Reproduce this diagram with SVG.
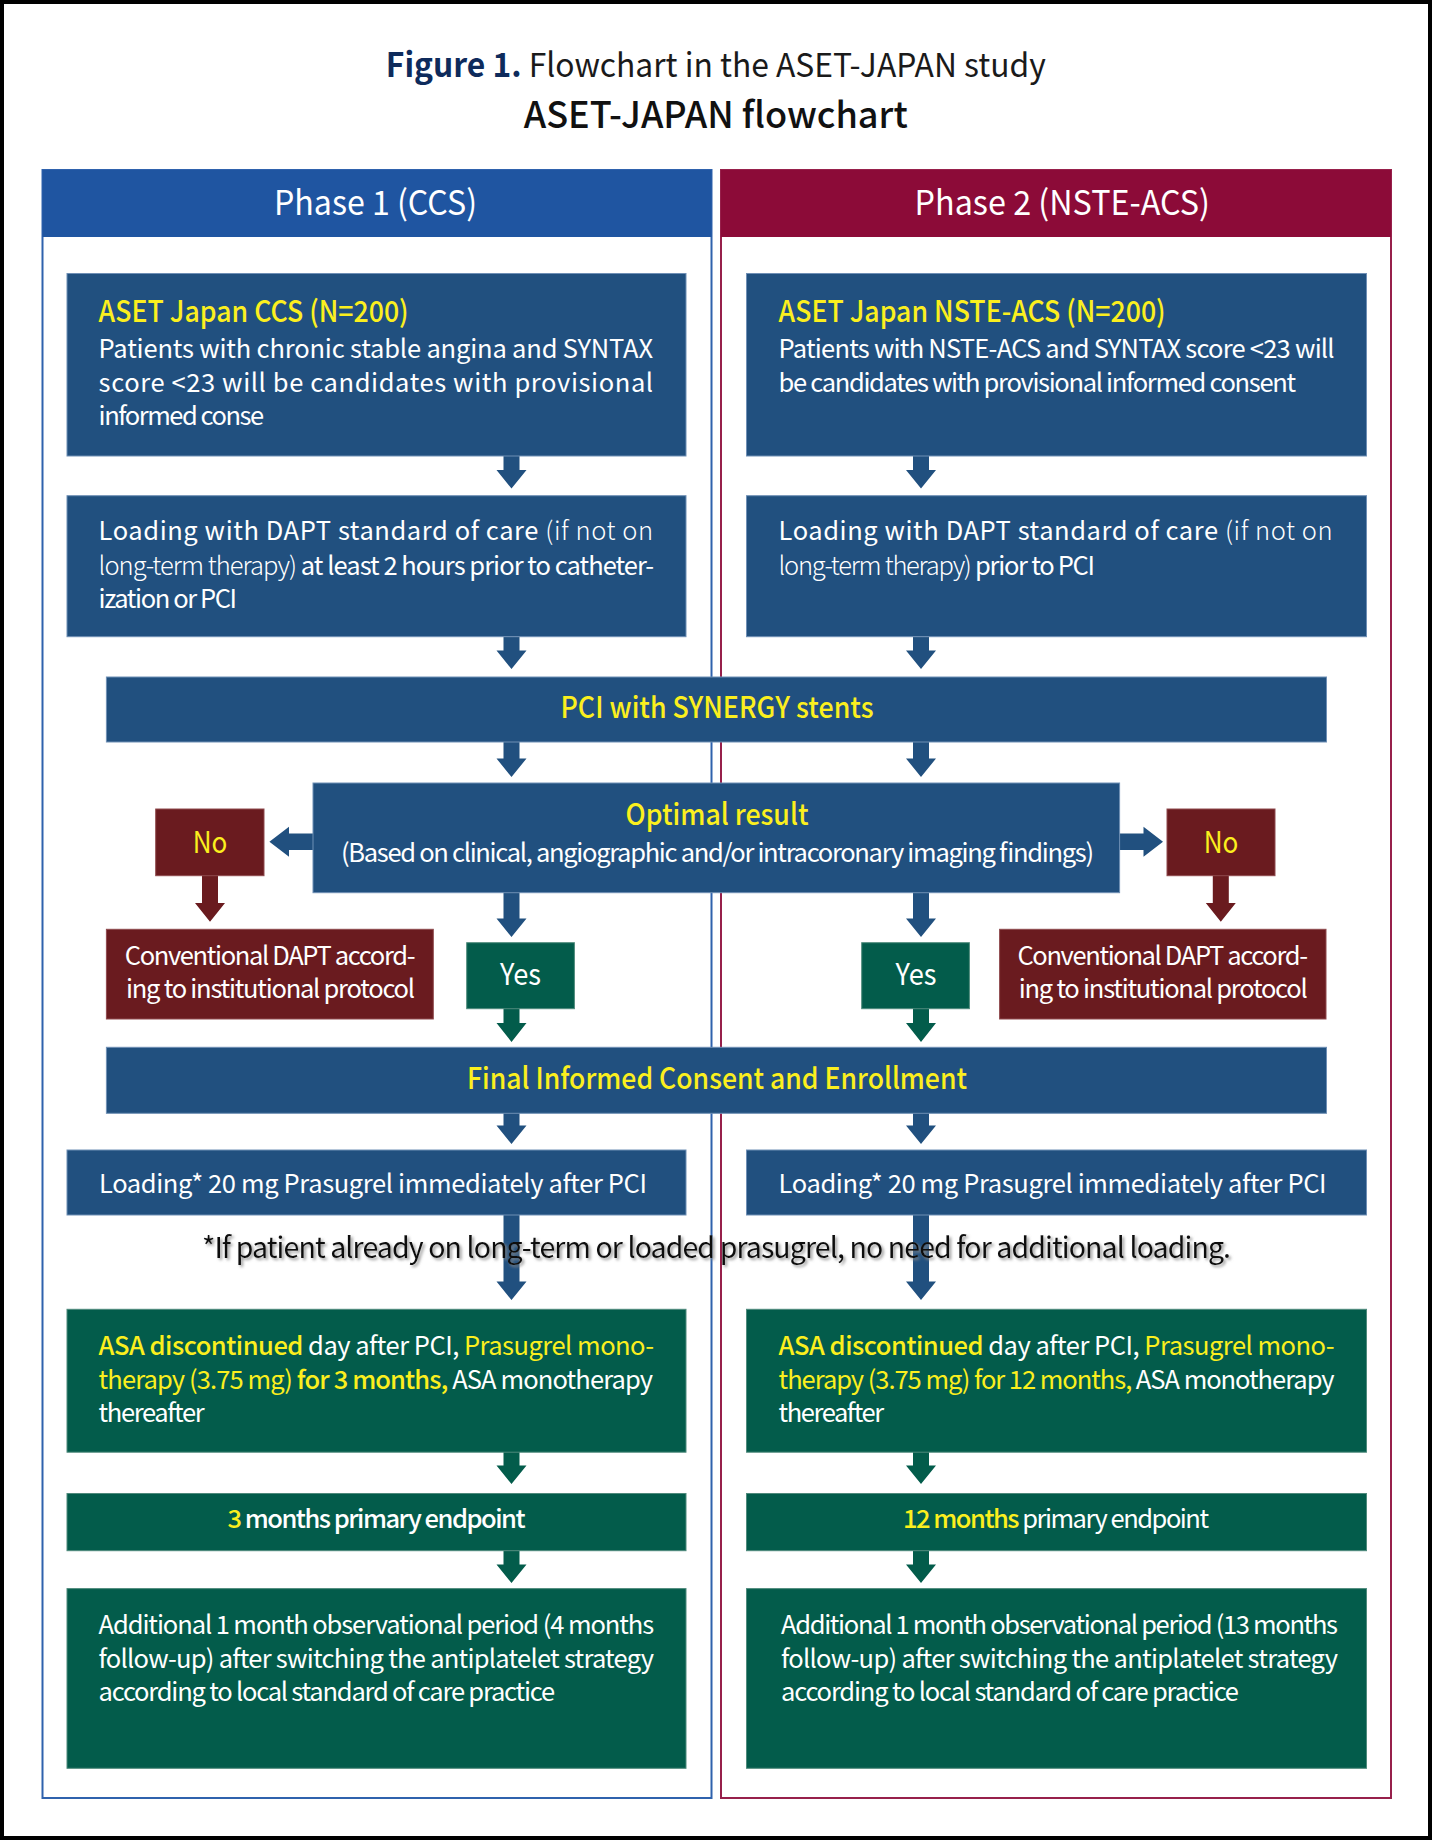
<svg xmlns="http://www.w3.org/2000/svg" width="1432" height="1840" viewBox="0 0 1432 1840">
<defs>
<style>
text{font-family:"Noto Sans CJK JP","Source Sans Pro","Noto Sans",sans-serif;}
.b{fill:#21507f;stroke:#6f8fb5;stroke-width:1;}
.g{fill:#035c4b;stroke:#4f8a7c;stroke-width:1;}
.r{fill:#6a1b1f;stroke:#8f4a4e;stroke-width:1;}
.t{fill:#ffffff;font-size:25.5px;}
.y{fill:#fbef1e;}
.w{fill:#ffffff;}
.lt{font-weight:300;}
.md{font-weight:500;}
.h{fill:#fbef1e;font-size:29.5px;font-weight:500;}
.ab{fill:#21507f;}
.ag{fill:#035c4b;}
.ar{fill:#6a1b1f;}
</style>
<filter id="sh" x="-5%" y="-50%" width="110%" height="200%">
<feGaussianBlur in="SourceAlpha" stdDeviation="1.6"/>
<feOffset dx="1.5" dy="2" result="o"/>
<feFlood flood-color="#8a8a8a" flood-opacity="0.9"/>
<feComposite in2="o" operator="in"/>
<feMerge><feMergeNode/><feMergeNode in="SourceGraphic"/></feMerge>
</filter>
</defs>
<rect x="0" y="0" width="1432" height="1840" fill="#ffffff"/>
<rect x="2" y="2" width="1428" height="1836" fill="none" stroke="#000" stroke-width="4"/>

<g id="title">
<text x="385.8" y="76.7" font-size="33" textLength="660" lengthAdjust="spacingAndGlyphs"><tspan fill="#0e2b5c" font-weight="700">Figure 1.</tspan><tspan fill="#1a1a1a"> Flowchart in the ASET-JAPAN study</tspan></text>
<text x="523.7" y="127.7" font-size="37" font-weight="500" fill="#111" textLength="384" lengthAdjust="spacingAndGlyphs">ASET-JAPAN flowchart</text>
</g>

<g id="phase1">
<rect x="42.5" y="170" width="669" height="1628" fill="none" stroke="#2f62ad" stroke-width="2"/>
<rect x="42.5" y="170" width="669" height="67" fill="#1f55a1"/>
<text x="274" y="215" font-size="34" fill="#fff" textLength="203" lengthAdjust="spacingAndGlyphs">Phase 1 (CCS)</text>
</g>
<g id="phase2">
<rect x="721" y="170" width="670" height="1628" fill="none" stroke="#97204b" stroke-width="2"/>
<rect x="721" y="170" width="670" height="67" fill="#8c0b38"/>
<text x="914.6" y="215" font-size="34" fill="#fff" textLength="295.4" lengthAdjust="spacingAndGlyphs">Phase 2 (NSTE-ACS)</text>
</g>

<g id="connectors">
<!-- left column vertical arrows cx=511.5 -->
<polygon class="ab" points="503.5,456 519.5,456 519.5,470 526.5,470 511.5,488.5 496.5,470 503.5,470"/>
<polygon class="ab" points="503.5,637 519.5,637 519.5,650.5 526.5,650.5 511.5,669 496.5,650.5 503.5,650.5"/>
<polygon class="ab" points="503.5,742 519.5,742 519.5,758.5 526.5,758.5 511.5,777 496.5,758.5 503.5,758.5"/>
<polygon class="ab" points="503.5,892 519.5,892 519.5,918.5 526.5,918.5 511.5,937 496.5,918.5 503.5,918.5"/>
<polygon class="ag" points="503.5,1008 519.5,1008 519.5,1023 526.5,1023 511.5,1042 496.5,1023 503.5,1023"/>
<polygon class="ab" points="503.5,1113 519.5,1113 519.5,1125.5 526.5,1125.5 511.5,1144 496.5,1125.5 503.5,1125.5"/>
<polygon class="ab" points="503.5,1215 519.5,1215 519.5,1281.5 526.5,1281.5 511.5,1300 496.5,1281.5 503.5,1281.5"/>
<polygon class="ag" points="503.5,1452 519.5,1452 519.5,1465.5 526.5,1465.5 511.5,1484 496.5,1465.5 503.5,1465.5"/>
<polygon class="ag" points="503.5,1550.5 519.5,1550.5 519.5,1564.5 526.5,1564.5 511.5,1583 496.5,1564.5 503.5,1564.5"/>
<!-- right column vertical arrows cx=921 -->
<polygon class="ab" points="913,456 929,456 929,470 936,470 921,488.5 906,470 913,470"/>
<polygon class="ab" points="913,637 929,637 929,650.5 936,650.5 921,669 906,650.5 913,650.5"/>
<polygon class="ab" points="913,742 929,742 929,758.5 936,758.5 921,777 906,758.5 913,758.5"/>
<polygon class="ab" points="913,892 929,892 929,918.5 936,918.5 921,937 906,918.5 913,918.5"/>
<polygon class="ag" points="913,1008 929,1008 929,1023 936,1023 921,1042 906,1023 913,1023"/>
<polygon class="ab" points="913,1113 929,1113 929,1125.5 936,1125.5 921,1144 906,1125.5 913,1125.5"/>
<polygon class="ab" points="913,1215 929,1215 929,1281.5 936,1281.5 921,1300 906,1281.5 913,1281.5"/>
<polygon class="ag" points="913,1452 929,1452 929,1465.5 936,1465.5 921,1484 906,1465.5 913,1465.5"/>
<polygon class="ag" points="913,1550.5 929,1550.5 929,1564.5 936,1564.5 921,1583 906,1564.5 913,1564.5"/>
<!-- horizontal arrows to No -->
<polygon class="ab" points="313.5,833.5 313.5,850 289,850 289,856.7 269.4,841.7 289,826.7 289,833.5"/>
<polygon class="ab" points="1119,833.5 1119,850 1143.5,850 1143.5,856.7 1163,841.7 1143.5,826.7 1143.5,833.5"/>
<!-- No down arrows -->
<polygon class="ar" points="202,875 218,875 218,903 225,903 210,921.7 195,903 202,903"/>
<polygon class="ar" points="1212.8,875 1228.8,875 1228.8,903 1235.8,903 1220.8,921.7 1205.8,903 1212.8,903"/>
</g>

<g id="ccs-patients">
<rect class="b" x="67" y="273.5" width="619" height="182.5"/>
<text class="h" x="98.6" y="321.7" font-size="29" textLength="310" lengthAdjust="spacingAndGlyphs">ASET Japan CCS (N=200)</text>
<text class="t" x="98.6" y="358" textLength="554.5" lengthAdjust="spacing">Patients with chronic stable angina and SYNTAX</text>
<text class="t" x="98.6" y="392" textLength="554.5" lengthAdjust="spacing">score &lt;23 will be candidates with provisional</text>
<text class="t" x="98.6" y="425" textLength="165.5" lengthAdjust="spacing">informed conse</text>
</g>
<g id="acs-patients">
<rect class="b" x="746.5" y="273.5" width="620" height="182.5"/>
<text class="h" x="778.6" y="321.7" font-size="29" textLength="387" lengthAdjust="spacingAndGlyphs">ASET Japan NSTE-ACS (N=200)</text>
<text class="t" x="778.6" y="358" textLength="556" lengthAdjust="spacing">Patients with NSTE-ACS and SYNTAX score &lt;23 will</text>
<text class="t" x="778.6" y="392" textLength="517.5" lengthAdjust="spacing">be candidates with provisional informed consent</text>
</g>

<g id="ccs-loading">
<rect class="b" x="67" y="495.7" width="619" height="141"/>
<text class="t" x="98.6" y="540" textLength="554.5" lengthAdjust="spacing">Loading with DAPT standard of care <tspan class="lt">(if not on</tspan></text>
<text class="t" x="98.6" y="575" textLength="555.5" lengthAdjust="spacing"><tspan class="lt">long-term therapy)</tspan> at least 2 hours prior to catheter-</text>
<text class="t" x="98.6" y="608" textLength="138.5" lengthAdjust="spacing">ization or PCI</text>
</g>
<g id="acs-loading">
<rect class="b" x="746.5" y="495.7" width="620" height="141"/>
<text class="t" x="778.6" y="540" textLength="554" lengthAdjust="spacing">Loading with DAPT standard of care <tspan class="lt">(if not on</tspan></text>
<text class="t" x="778.6" y="575" textLength="316.5" lengthAdjust="spacing"><tspan class="lt">long-term therapy)</tspan> prior to PCI</text>
</g>

<g id="pci">
<rect class="b" x="106.4" y="677" width="1220.1" height="65"/>
<text class="h" x="717" y="718" text-anchor="middle" textLength="313" lengthAdjust="spacingAndGlyphs">PCI with SYNERGY stents</text>
</g>

<g id="optimal">
<rect class="b" x="313" y="783" width="806.6" height="109.7"/>
<text class="h" x="717" y="825" text-anchor="middle" textLength="183" lengthAdjust="spacingAndGlyphs">Optimal result</text>
<text class="t" x="717.5" y="862" text-anchor="middle" textLength="753" lengthAdjust="spacing">(Based on clinical, angiographic and/or intracoronary imaging findings)</text>
</g>

<g id="no-left">
<rect class="r" x="155.7" y="809" width="108.3" height="66.7"/>
<text class="y" x="210" y="853" font-size="30" text-anchor="middle" textLength="34.7" lengthAdjust="spacingAndGlyphs">No</text>
</g>
<g id="no-right">
<rect class="r" x="1167" y="809" width="108" height="66.7"/>
<text class="y" x="1221" y="853" font-size="30" text-anchor="middle" textLength="34.7" lengthAdjust="spacingAndGlyphs">No</text>
</g>

<g id="conv-left">
<rect class="r" x="106.4" y="929.3" width="326.9" height="89.7"/>
<text class="t" x="124.7" y="965" textLength="290.8" lengthAdjust="spacing">Conventional DAPT accord-</text>
<text class="t" x="126" y="998.3" textLength="289" lengthAdjust="spacing">ing to institutional protocol</text>
</g>
<g id="conv-right">
<rect class="r" x="999.6" y="929.3" width="326.4" height="89.7"/>
<text class="t" x="1017.4" y="965" textLength="290.6" lengthAdjust="spacing">Conventional DAPT accord-</text>
<text class="t" x="1018.7" y="998.3" textLength="289" lengthAdjust="spacing">ing to institutional protocol</text>
</g>

<g id="yes-left">
<rect class="g" x="466.7" y="942.7" width="107.7" height="66"/>
<text class="w" x="520.5" y="985" font-size="30" text-anchor="middle" textLength="41" lengthAdjust="spacingAndGlyphs">Yes</text>
</g>
<g id="yes-right">
<rect class="g" x="861.7" y="942.7" width="107.7" height="66"/>
<text class="w" x="916" y="985" font-size="30" text-anchor="middle" textLength="41" lengthAdjust="spacingAndGlyphs">Yes</text>
</g>

<g id="consent">
<rect class="b" x="106.4" y="1047.3" width="1220.1" height="66"/>
<text class="h" x="717" y="1089" text-anchor="middle" textLength="500" lengthAdjust="spacingAndGlyphs">Final Informed Consent and Enrollment</text>
</g>

<g id="ccs-prasugrel-load">
<rect class="b" x="67" y="1150" width="619" height="65"/>
<text class="t" x="99" y="1192.7" textLength="548" lengthAdjust="spacing">Loading* 20 mg Prasugrel immediately after PCI</text>
</g>
<g id="acs-prasugrel-load">
<rect class="b" x="746.5" y="1150" width="620" height="65"/>
<text class="t" x="778.6" y="1192.7" textLength="548" lengthAdjust="spacing">Loading* 20 mg Prasugrel immediately after PCI</text>
</g>

<g id="footnote">
<text x="202" y="1258" font-size="28.5" fill="#111" filter="url(#sh)" textLength="1029" lengthAdjust="spacing">*If patient already on long-term or loaded prasugrel, no need for additional loading.</text>
</g>

<g id="ccs-mono">
<rect class="g" x="67" y="1309.3" width="619" height="142.9"/>
<text class="t" x="98.6" y="1355" textLength="555.5" lengthAdjust="spacing"><tspan class="y md">ASA discontinued</tspan> day after PCI, <tspan class="y">Prasugrel mono-</tspan></text>
<text class="t" x="98.6" y="1388.8" textLength="554.5" lengthAdjust="spacing"><tspan class="y">therapy (3.75 mg) </tspan><tspan class="y md">for 3 months,</tspan> ASA monotherapy</text>
<text class="t" x="98.6" y="1422" textLength="106" lengthAdjust="spacing">thereafter</text>
</g>
<g id="acs-mono">
<rect class="g" x="746.5" y="1309.3" width="620" height="142.9"/>
<text class="t" x="778.6" y="1355" textLength="556" lengthAdjust="spacing"><tspan class="y md">ASA discontinued</tspan> day after PCI, <tspan class="y">Prasugrel mono-</tspan></text>
<text class="t" x="778.6" y="1388.8" textLength="556" lengthAdjust="spacing"><tspan class="y">therapy (3.75 mg) for 12 months,</tspan> ASA monotherapy</text>
<text class="t" x="778.6" y="1422" textLength="105.5" lengthAdjust="spacing">thereafter</text>
</g>

<g id="ccs-endpoint">
<rect class="g" x="67" y="1493.5" width="619" height="57.2"/>
<text class="t md" x="376.5" y="1528" text-anchor="middle" textLength="298" lengthAdjust="spacing"><tspan class="y">3</tspan> months primary endpoint</text>
</g>
<g id="acs-endpoint">
<rect class="g" x="746.5" y="1493.5" width="620" height="57.2"/>
<text class="t" x="1056" y="1528" text-anchor="middle" textLength="306" lengthAdjust="spacing"><tspan class="y md">12 months</tspan> primary endpoint</text>
</g>

<g id="ccs-followup">
<rect class="g" x="67" y="1588.6" width="619" height="179.7"/>
<text class="t" x="98.6" y="1634" textLength="555.5" lengthAdjust="spacing">Additional 1 month observational period (4 months</text>
<text class="t" x="98.6" y="1667.8" textLength="555.5" lengthAdjust="spacing">follow-up) after switching the antiplatelet strategy</text>
<text class="t" x="98.6" y="1701" textLength="456.5" lengthAdjust="spacing">according to local standard of care practice</text>
</g>
<g id="acs-followup">
<rect class="g" x="746.5" y="1588.6" width="620" height="179.7"/>
<text class="t" x="781" y="1634" textLength="557" lengthAdjust="spacing">Additional 1 month observational period (13 months</text>
<text class="t" x="781" y="1667.8" textLength="557" lengthAdjust="spacing">follow-up) after switching the antiplatelet strategy</text>
<text class="t" x="781" y="1701" textLength="458" lengthAdjust="spacing">according to local standard of care practice</text>
</g>
</svg>
